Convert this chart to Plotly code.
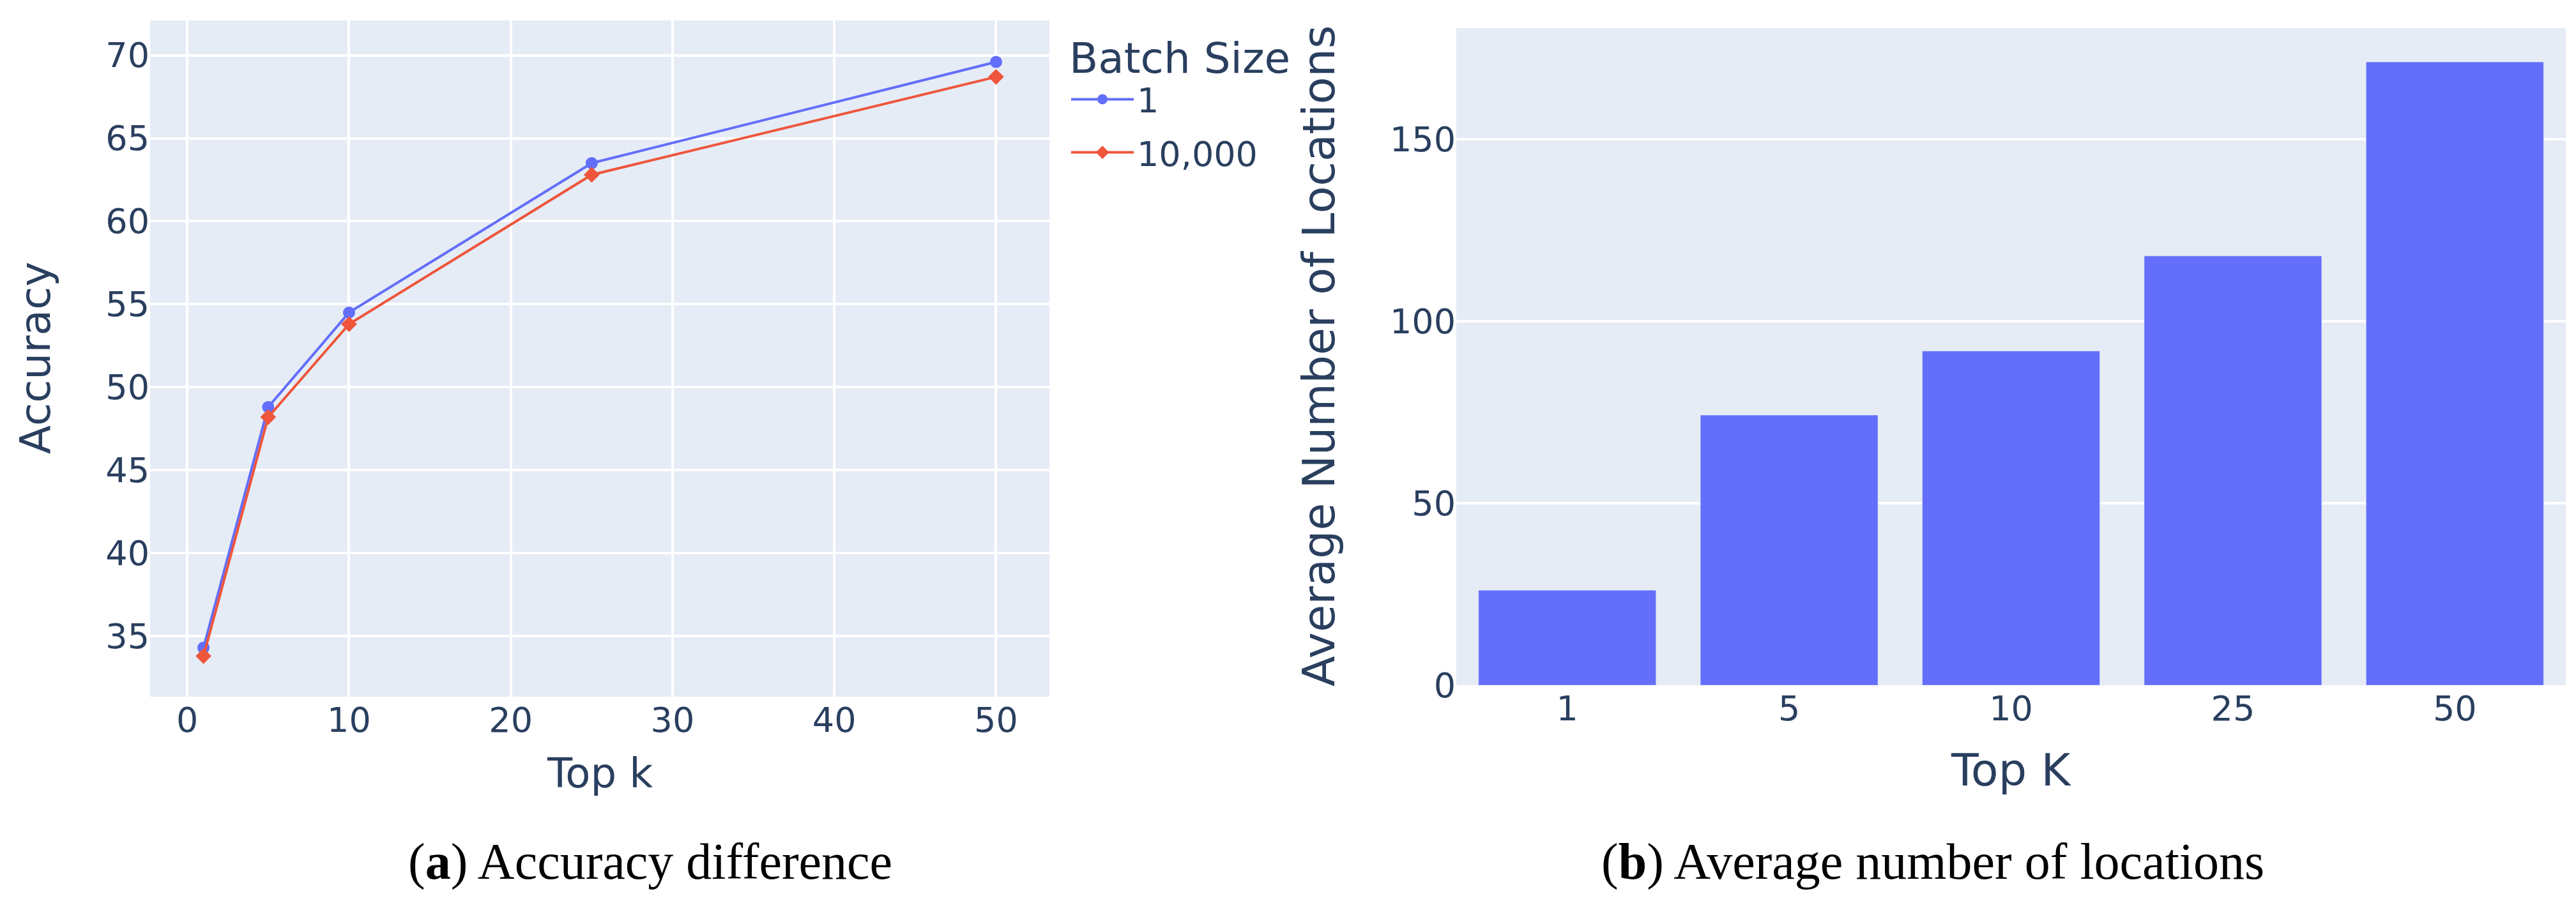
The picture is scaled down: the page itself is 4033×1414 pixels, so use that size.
import plotly.graph_objects as go

# Data
top_k = [1, 5, 10, 25, 50]
acc_batch_1 = [34.3, 48.8, 54.5, 63.5, 69.6]
acc_batch_10000 = [33.8, 48.2, 53.8, 62.8, 68.7]

bar_labels = ["1", "5", "10", "25", "50"]
avg_locations = [26.1, 74.2, 91.8, 117.9, 171.2]

W, H = 4033, 1414
SANS = "DejaVu Sans"
SERIF = "Liberation Serif"
FONT_COLOR = "#2a3f5f"


def px_x(v):
    return v / W


def px_y(v):
    return 1 - v / H


fig = go.Figure()

fig.add_trace(go.Scatter(x=top_k, y=acc_batch_1, name="1", mode="lines+markers",
                         legendgroup="b1",
                         line=dict(color="#636efa", width=4),
                         marker=dict(symbol="circle", size=19),
                         xaxis="x", yaxis="y"))
fig.add_trace(go.Scatter(x=top_k, y=acc_batch_10000, name="10,000", mode="lines+markers",
                         legendgroup="b10000",
                         line=dict(color="#EF553B", width=4),
                         marker=dict(symbol="diamond", size=19),
                         xaxis="x", yaxis="y"))
fig.add_trace(go.Bar(x=bar_labels, y=avg_locations, marker_color="#636efa",
                     showlegend=False, xaxis="x2", yaxis="y2"))

axis_common = dict(gridcolor="white", gridwidth=4, zeroline=False, automargin=False,
                   tickfont=dict(family=SANS, size=54, color=FONT_COLOR), ticks="")

fig.update_layout(
    width=W, height=H, autosize=False,
    margin=dict(l=0, r=0, t=0, b=0),
    paper_bgcolor="white", plot_bgcolor="#E5ECF6",
    font=dict(family=SANS, color=FONT_COLOR),
    bargap=0.2,
    xaxis=dict(domain=[px_x(227), px_x(1635)], range=[-2.3, 53.3], dtick=10,
               anchor="y", **axis_common),
    yaxis=dict(domain=[px_y(1083), px_y(24)], range=[31.35, 72.1], dtick=5,
               anchor="x", **axis_common),
    xaxis2=dict(domain=[px_x(2272), px_x(4009)], type="category", showgrid=False,
                anchor="y2", **axis_common),
    yaxis2=dict(domain=[px_y(1065), px_y(36)], range=[0, 180.5], dtick=50,
                anchor="x2", **axis_common),
    legend=dict(x=px_x(1664), y=px_y(20), xanchor="left", yanchor="top",
                bgcolor="rgba(0,0,0,0)", itemwidth=98, tracegroupgap=10,
                font=dict(family=SANS, size=54, color=FONT_COLOR),
                title=dict(text="Batch Size", font=dict(family=SANS, size=66, color=FONT_COLOR))),
)

title_font = dict(family=SANS, color=FONT_COLOR)
annotations = [
    dict(text="Accuracy", x=px_x(47), y=px_y(553), textangle=-90,
         font=dict(size=66, **title_font)),
    dict(text="Top k", x=px_x(931), y=px_y(1203), font=dict(size=64, **title_font)),
    dict(text="Average Number of Locations", x=px_x(2057), y=px_y(550), textangle=-90,
         font=dict(size=70, **title_font)),
    dict(text="Top K", x=px_x(3140), y=px_y(1198), font=dict(size=70, **title_font)),
    dict(text="(<b>a</b>) Accuracy difference", x=px_x(1010), y=px_y(1341),
         font=dict(family=SERIF, size=80, color="black")),
    dict(text="(<b>b</b>) Average number of locations", x=px_x(3018), y=px_y(1341),
         font=dict(family=SERIF, size=80, color="black")),
]
for a in annotations:
    fig.add_annotation(xref="paper", yref="paper", showarrow=False,
                       xanchor="center", yanchor="middle", **a)

fig.write_html("out.html")
